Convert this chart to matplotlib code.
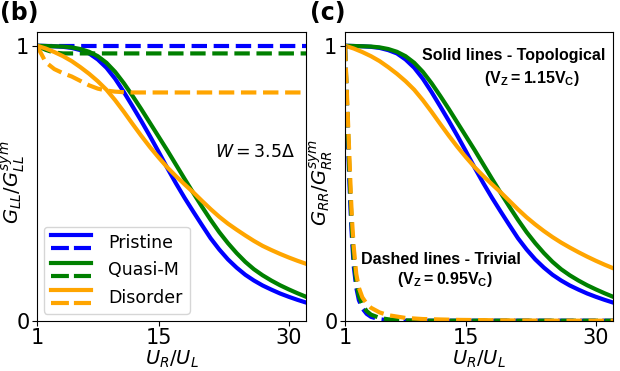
import numpy as np
import matplotlib
matplotlib.use("Agg")
import matplotlib.pyplot as plt
from matplotlib.lines import Line2D
from matplotlib.legend_handler import HandlerBase

plt.rcParams['mathtext.fontset'] = 'custom'
plt.rcParams['mathtext.rm'] = 'DejaVu Sans'
plt.rcParams['mathtext.it'] = 'DejaVu Sans:italic'
plt.rcParams['mathtext.bf'] = 'Liberation Sans:bold'

# U_R/U_L grid for the solid (topological) curves
u_ratio = list(range(1, 33))

pristine_topo = [1.000, 0.999, 0.998, 0.996, 0.992, 0.984, 0.972, 0.950, 0.920, 0.880,
                 0.832, 0.780, 0.727, 0.672, 0.615, 0.556, 0.500, 0.447, 0.397, 0.348,
                 0.300, 0.259, 0.223, 0.193, 0.167, 0.146, 0.128, 0.113, 0.099, 0.087,
                 0.076, 0.066]
quasi_topo = [1.000, 0.999, 0.998, 0.997, 0.994, 0.988, 0.978, 0.962, 0.938, 0.905,
              0.864, 0.818, 0.770, 0.720, 0.670, 0.620, 0.568, 0.516, 0.465, 0.415,
              0.367, 0.322, 0.282, 0.246, 0.214, 0.187, 0.165, 0.146, 0.129, 0.114,
              0.100, 0.087]
disorder_topo_L = [1.000, 0.990, 0.977, 0.962, 0.944, 0.922, 0.898, 0.871, 0.840, 0.802,
                   0.760, 0.716, 0.673, 0.632, 0.594, 0.558, 0.526, 0.496, 0.467, 0.436,
                   0.406, 0.378, 0.353, 0.331, 0.310, 0.290, 0.272, 0.257, 0.243, 0.230,
                   0.218, 0.207]
disorder_topo_R = [1.000, 0.990, 0.977, 0.962, 0.944, 0.922, 0.898, 0.871, 0.840, 0.802,
                   0.760, 0.716, 0.673, 0.632, 0.594, 0.558, 0.526, 0.496, 0.467, 0.436,
                   0.405, 0.376, 0.350, 0.326, 0.304, 0.284, 0.266, 0.249, 0.233, 0.218,
                   0.204, 0.191]

# left panel, dashed (trivial) G_LL
pristine_triv_L = [1.0] * 32
quasi_triv_L = [1.000, 0.985, 0.975] + [0.972] * 29
disorder_triv_L = [1.000, 0.940, 0.915, 0.900, 0.888, 0.872, 0.856, 0.844, 0.837, 0.833,
                   0.831] + [0.830] * 21

# right panel, dashed (trivial) G_RR, finer grid near U_R/U_L = 1
u_fine = [1.0, 1.1, 1.2, 1.3, 1.4, 1.5, 1.6, 1.7, 1.8, 2.0, 2.3, 2.6, 3.0, 3.5, 4.0,
          5.0, 6.0, 8.0, 10.0, 14.0, 20.0, 26.0, 32.0]
pristine_triv_R = [1.0, 0.90, 0.80, 0.70, 0.60, 0.51, 0.43, 0.36, 0.30, 0.20, 0.12, 0.075,
                   0.045, 0.025, 0.014, 0.005, 0.002, 0.0, 0.0, 0.0, 0.0, 0.0, 0.0]
quasi_triv_R = [1.0, 0.91, 0.82, 0.73, 0.64, 0.55, 0.47, 0.40, 0.33, 0.23, 0.14, 0.09,
                0.058, 0.035, 0.022, 0.010, 0.005, 0.001, 0.0, 0.0, 0.0, 0.0, 0.0]
disorder_triv_R = [1.0, 0.92, 0.84, 0.76, 0.68, 0.60, 0.52, 0.44, 0.37, 0.27, 0.17, 0.12,
                   0.085, 0.062, 0.047, 0.030, 0.020, 0.010, 0.006, 0.003, 0.001, 0.0, 0.0]

labels = ['Pristine', 'Quasi-M', 'Disorder']
colors = ['blue', 'green', 'orange']


class HandlerStack(HandlerBase):
    ''' solid line on top, dashed below '''
    def create_artists(self, legend, orig_handle, xdescent, ydescent,
                       width, height, fontsize, trans):
        solid, dashed = orig_handle
        x0, x1 = -xdescent, -xdescent + width
        l1 = Line2D([x0, x1], [height * 0.95 - ydescent] * 2, color=solid.get_color(),
                    lw=solid.get_linewidth(), transform=trans)
        l2 = Line2D([x0, x1], [height * 0.05 - ydescent] * 2, color=dashed.get_color(),
                    lw=dashed.get_linewidth(), linestyle=(0, (4.3, 1.2)), transform=trans)
        return [l1, l2]


fig = plt.figure(figsize=(6.2, 3.71), dpi=100)
axL = fig.add_axes([0.0597, 0.1356, 0.4339, 0.7782])
axR = fig.add_axes([0.5565, 0.1356, 0.4323, 0.7782])

lw = 3.0
handles = []
for topo, triv, col in zip([pristine_topo, quasi_topo, disorder_topo_L],
                           [pristine_triv_L, quasi_triv_L, disorder_triv_L], colors):
    s, = axL.plot(u_ratio, topo, color=col, lw=lw)
    d, = axL.plot(u_ratio, triv, color=col, lw=lw, linestyle='--')
    handles.append((s, d))

for topo, col in zip([pristine_topo, quasi_topo, disorder_topo_R], colors):
    axR.plot(u_ratio, topo, color=col, lw=lw)
for triv, col in zip([pristine_triv_R, quasi_triv_R, disorder_triv_R], colors):
    axR.plot(u_fine, triv, color=col, lw=lw, linestyle='--')

for ax in (axL, axR):
    ax.set_xlim(1, 32)
    ax.set_ylim(0, 1.05)
    ax.set_xticks([1, 15, 30])
    ax.set_yticks([0, 1])
    ax.set_yticklabels(['0', '1'])
    ax.tick_params(labelsize=15, pad=2)
    ax.set_xlabel(r'$U_R/U_L$', fontsize=14, labelpad=0)

axL.set_ylabel(r'$G_{LL}/G_{LL}^{sym}$', fontsize=14)
axR.set_ylabel(r'$G_{RR}/G_{RR}^{sym}$', fontsize=14)
axL.yaxis.set_label_coords(-0.038, 0.48)
axR.yaxis.set_label_coords(-0.038, 0.48)

axL.text(26.1, 0.613, r'$W = 3.5\Delta$', fontsize=12.5, ha='center', va='center')

axL.legend(handles=handles, labels=labels, handler_map={tuple: HandlerStack()},
           loc='lower left', fontsize=12.5, handlelength=2.3, handleheight=0.9,
           borderaxespad=0.4, labelspacing=0.55, handletextpad=1.0)

bold = dict(fontsize=11.5, ha='center', va='center', family='Liberation Sans', weight='bold')
axR.text(20.5, 0.966, 'Solid lines - Topological', **bold)
axR.text(22.6, 0.881, r'$\mathbf{(V_Z = 1.15V_C)}$', fontsize=11.5, ha='center', va='center')
axR.text(12.1, 0.221, 'Dashed lines - Trivial', **bold)
axR.text(12.6, 0.148, r'$\mathbf{(V_Z = 0.95V_C)}$', fontsize=11.5, ha='center', va='center')

fig.text(0.0, 0.997, '(b)', fontsize=17, weight='bold', ha='left', va='top')
fig.text(0.5, 0.997, '(c)', fontsize=17, weight='bold', ha='left', va='top')

fig.savefig('out.png', dpi=100)
